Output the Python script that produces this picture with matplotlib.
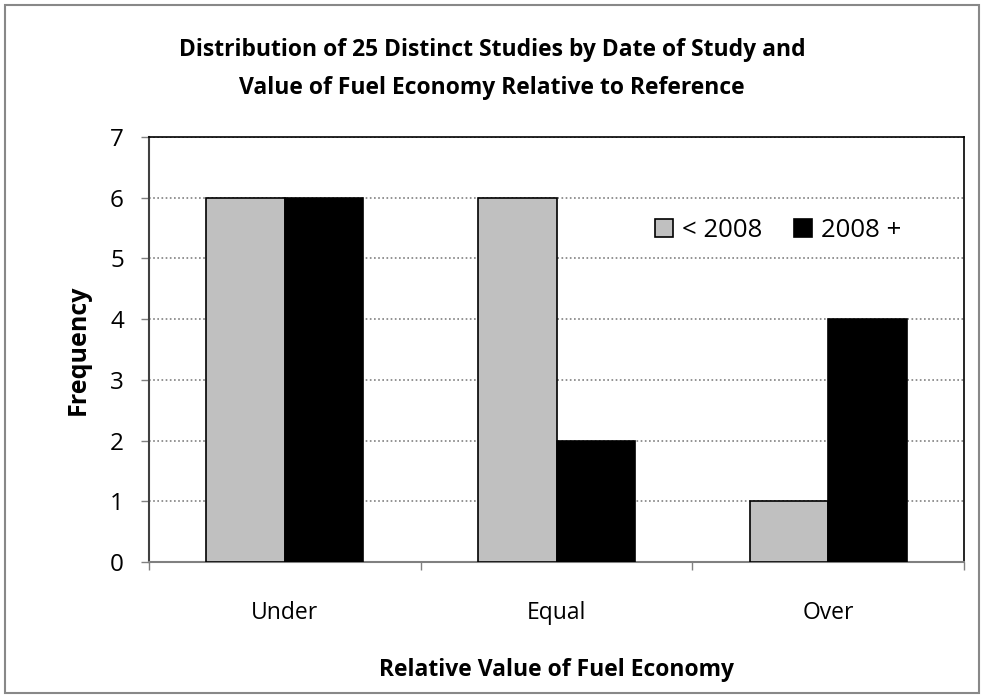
import numpy as np
import matplotlib.pyplot as plt
from matplotlib.patches import Rectangle

categories = ['Under', 'Equal', 'Over']
series_names = ['< 2008', '2008 +']
before_2008 = [6, 6, 1]
after_2008 = [6, 2, 4]
colors = ['#c0c0c0', '#000000']

plt.rcParams['font.family'] = ['Open Sans', 'DejaVu Sans']

fig = plt.figure(figsize=(9.84, 6.98), dpi=100)
ax = fig.add_axes([0.1514, 0.1948, 0.8283, 0.6089])

ind = np.arange(len(categories))
w = 0.289
ax.bar(ind - w / 2, before_2008, width=w, color=colors[0], edgecolor='black',
       linewidth=1.2, label=series_names[0], zorder=3)
ax.bar(ind + w / 2, after_2008, width=w, color=colors[1], edgecolor='black',
       linewidth=1.2, label=series_names[1], zorder=3)

ax.set_xlim(-0.5, 2.5)
ax.set_ylim(0, 7)
ax.set_yticks(range(0, 8))
ax.yaxis.grid(True, linestyle=(0, (1, 1.5)), color='#808080', linewidth=1.2, zorder=0)

# category boundary ticks
ax.set_xticks([-0.5, 0.5, 1.5, 2.5])
ax.set_xticklabels([])
ax.set_xticks(ind, minor=True)
ax.set_xticklabels(categories, minor=True)
ax.tick_params(axis='x', which='major', length=6, color='#808080', width=1)
ax.tick_params(axis='x', which='minor', length=0, pad=28, labelsize=16.5)
ax.tick_params(axis='y', length=6, color='#808080', width=1, labelsize=17.5, pad=12)

for side in ['top', 'right']:
    ax.spines[side].set_color('black')
    ax.spines[side].set_linewidth(1.2)
ax.spines['bottom'].set_color('#808080')
ax.spines['bottom'].set_linewidth(1.5)
ax.spines['left'].set_color('#404040')
ax.spines['left'].set_linestyle((0, (1, 1)))
ax.spines['left'].set_linewidth(1.5)

ax.set_ylabel('Frequency', fontsize=18, fontweight='bold', labelpad=14)
ax.set_xlabel('Relative Value of Fuel Economy', fontsize=16.5, fontweight='bold', labelpad=24)

fig.text(0.5, 0.9015, 'Distribution of 25 Distinct Studies by Date of Study and\n'
         'Value of Fuel Economy Relative to Reference',
         ha='center', va='center', fontsize=16.5, fontweight='bold', linespacing=1.75)

ax.legend(loc='center', bbox_to_anchor=(0.772, 0.78), ncol=2, frameon=False,
          fontsize=18.5, handlelength=0.7, handleheight=0.7, handletextpad=0.35,
          columnspacing=1.2)

fig.patches.append(Rectangle((0.005, 0.007), 0.99, 0.986, transform=fig.transFigure,
                             fill=False, edgecolor='#888888', linewidth=1.5))

fig.savefig('out.png', dpi=100)
